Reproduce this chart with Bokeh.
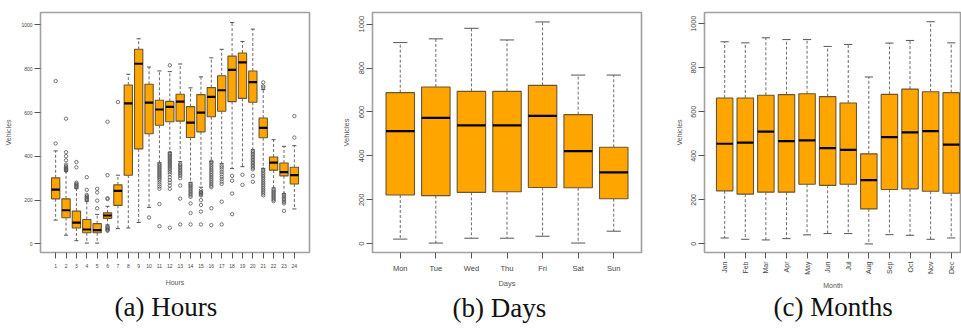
import math

from bokeh.plotting import figure
from bokeh.layouts import row
from bokeh.models import FixedTicker, Range1d, Title
from bokeh.embed import file_html
from bokeh.resources import INLINE

# ---- traffic volume per hour of day ----
hour_labels = [str(h) for h in range(1, 25)]
hour_low = [109, 40, 15, 4, 4, 87, 70, 73, 98, 167, 370, 419, 376, 281, 259, 378, 367, 344, 353, 430, 344, 256, 230, 160]
hour_q1 = [206, 120, 73, 51, 51, 117, 176, 314, 434, 503, 542, 558, 561, 486, 512, 581, 606, 650, 665, 647, 485, 337, 311, 274]
hour_med = [248, 154, 97, 66, 63, 130, 242, 642, 823, 645, 614, 626, 650, 554, 600, 672, 702, 795, 829, 739, 530, 371, 328, 314]
hour_q3 = [302, 206, 150, 112, 93, 142, 270, 726, 889, 729, 656, 651, 684, 627, 682, 714, 768, 858, 872, 790, 575, 397, 370, 350]
hour_high = [425, 332, 254, 195, 135, 172, 314, 775, 937, 808, 790, 787, 822, 713, 763, 850, 889, 1011, 925, 981, 705, 476, 446, 449]
hour_out = [
    [459, 744],
    [335, 338, 341, 345, 349, 355, 362, 382, 401, 419, 572],
    [258, 262, 266, 270, 275, 280, 350, 374],
    [200, 204, 208, 213, 218, 224, 247, 305],
    [163, 198, 235, 252],
    [60, 64, 68, 72, 76, 80, 205, 209, 314, 558],
    [648],
    [],
    [],
    [121],
    [81, 182, 252, 262, 272, 282, 292, 300, 306, 312, 318, 324, 330, 336, 342, 348, 354, 360, 366],
    [74, 252, 267, 280, 292, 305, 318, 328, 336, 344, 350, 356, 362, 368, 374, 380, 386, 392, 398, 404, 410, 415, 816],
    [89, 207, 267, 300, 311, 318, 325, 332, 339, 346, 353, 360, 366],
    [89, 141, 185, 215, 222, 229, 236, 243, 250, 257, 264, 270, 275],
    [89, 148, 178, 200, 222, 226, 230, 234, 237, 245],
    [86, 163, 259, 266, 274, 282, 290, 298, 306, 314, 322, 330, 338, 346, 354, 362, 370, 376],
    [89, 193, 274, 285, 296, 307, 318, 329, 340, 350, 358],
    [136, 230, 289, 311],
    [270, 316],
    [284, 311, 341, 348, 355, 362, 369, 376, 383, 390, 397, 404, 411, 418, 425],
    [222, 230, 238, 246, 254, 262, 270, 278, 286, 294, 302, 310, 318, 326, 334, 340, 714, 720, 738],
    [196, 202, 208, 214, 220, 226, 232, 238, 244, 250],
    [151, 185, 192, 199, 206, 213, 220, 226],
    [486, 584],
]

# ---- traffic volume per day of week ----
day_labels = ["Mon", "Tue", "Wed", "Thu", "Fri", "Sat", "Sun"]
day_low = [21, 3, 25, 25, 34, 3, 57]
day_q1 = [222, 219, 234, 237, 256, 255, 205]
day_med = [513, 573, 539, 539, 582, 422, 325]
day_q3 = [688, 714, 694, 694, 721, 588, 439]
day_high = [916, 933, 981, 928, 1010, 768, 768]
day_out = [[] for _ in day_labels]

# ---- traffic volume per month ----
month_labels = ["Jan", "Feb", "Mar", "Apr", "May", "Jun", "Jul", "Aug", "Sep", "Oct", "Nov", "Dec"]
month_low = [27, 21, 18, 24, 41, 47, 47, 0, 42, 39, 21, 27]
month_q1 = [241, 226, 235, 235, 271, 266, 271, 159, 247, 250, 239, 230]
month_med = [455, 460, 510, 467, 470, 435, 427, 290, 485, 507, 512, 451]
month_q3 = [663, 663, 675, 678, 682, 669, 640, 409, 679, 703, 691, 687]
month_high = [918, 913, 936, 928, 928, 897, 906, 758, 912, 924, 1009, 913]
month_out = [[] for _ in month_labels]

value_ticks = [0, 200, 400, 600, 800, 1000]

SANS = "Liberation Sans"
SERIF = "Liberation Serif"
BOX_FILL = "#FFA500"
BOX_EDGE = "#6a5532"
WHISKER = "#6b6b6b"
BOX_W = 0.8


def boxplot(labels, low, q1, med, q3, high, outliers, *, width, borders, x_range,
            y_range, x_title, caption, caption_left, caption_standoff, tick_size,
            title_size, x_title_standoff, y_vertical, x_vertical):
    left, right, top, bottom = borders
    p = figure(width=width, height=329, output_backend="svg", toolbar_location=None,
               x_range=Range1d(*x_range), y_range=Range1d(*y_range),
               min_border_left=left, min_border_right=right,
               min_border_top=top, min_border_bottom=bottom)
    p.background_fill_color = "white"
    p.border_fill_color = "white"
    p.outline_line_color = "#a0a0a0"
    p.outline_line_width = 1.6
    p.grid.visible = False

    pos = list(range(1, len(labels) + 1))
    half = BOX_W / 2
    cap = BOX_W / 4

    # whiskers (dashed) and staples
    p.segment(x0=pos, y0=q3, x1=pos, y1=high, line_color=WHISKER, line_dash="3 2", line_width=1)
    p.segment(x0=pos, y0=q1, x1=pos, y1=low, line_color=WHISKER, line_dash="3 2", line_width=1)
    p.segment(x0=[x - cap for x in pos], y0=high, x1=[x + cap for x in pos], y1=high,
              line_color="#555555", line_width=1)
    p.segment(x0=[x - cap for x in pos], y0=low, x1=[x + cap for x in pos], y1=low,
              line_color="#555555", line_width=1)

    # boxes and medians
    p.vbar(x=pos, width=BOX_W, bottom=q1, top=q3, fill_color=BOX_FILL,
           line_color=BOX_EDGE, line_width=1.1)
    p.segment(x0=[x - half for x in pos], y0=med, x1=[x + half for x in pos], y1=med,
              line_color="black", line_width=2.2)

    # outliers
    ox, oy = [], []
    for x, vals in zip(pos, outliers):
        ox += [x] * len(vals)
        oy += vals
    if ox:
        p.scatter(ox, oy, marker="circle", size=3.4, fill_color=None,
                  line_color="#555555", line_width=0.8)

    for ax in (p.xaxis[0], p.yaxis[0]):
        ax.axis_line_color = None
        ax.major_tick_line_color = "#555555"
        ax.major_tick_out = 6
        ax.major_tick_in = 0
        ax.minor_tick_line_color = None
        ax.major_label_text_font = SANS
        ax.major_label_text_font_size = f"{tick_size}px"
        ax.major_label_text_color = "#444444"
        ax.axis_label_text_font = SANS
        ax.axis_label_text_font_size = f"{title_size}px"
        ax.axis_label_text_font_style = "normal"
        ax.axis_label_text_color = "#555555"

    p.xaxis.ticker = FixedTicker(ticks=pos)
    p.xaxis.major_label_overrides = {x: lab for x, lab in zip(pos, labels)}
    p.xaxis.axis_label = x_title
    p.yaxis.ticker = FixedTicker(ticks=value_ticks)
    p.yaxis.axis_label = "Vehicles"
    p.xaxis.major_label_standoff = 5
    p.yaxis.major_label_standoff = 2
    p.xaxis.axis_label_standoff = x_title_standoff
    p.yaxis.axis_label_standoff = 6
    if y_vertical:
        p.yaxis.major_label_orientation = "vertical"
    if x_vertical:
        # text reads bottom-to-top under the axis
        p.xaxis.major_label_orientation = math.pi / 2
        p.xaxis.major_label_standoff = 3

    # sub-figure caption underneath the panel
    p.add_layout(Title(text=caption, align="left", offset=caption_left,
                       standoff=caption_standoff, text_font=SERIF,
                       text_font_size="27px", text_font_style="normal",
                       text_color="#111111"), "below")
    return p


pa = boxplot(hour_labels, hour_low, hour_q1, hour_med, hour_q3, hour_high, hour_out,
             width=330, borders=(40, 21, 8, 77), x_range=(-0.46, 25.46),
             y_range=(-39, 1057), x_title="Hours", caption="(a) Hours", caption_left=74,
             caption_standoff=2, tick_size=5, title_size=7, x_title_standoff=8,
             y_vertical=False, x_vertical=False)
pb = boxplot(day_labels, day_low, day_q1, day_med, day_q3, day_high, day_out,
             width=320, borders=(42, 9, 10, 76), x_range=(0.22, 7.78),
             y_range=(-40, 1053), x_title="Days", caption="(b) Days", caption_left=80,
             caption_standoff=1, tick_size=7.5, title_size=7.5, x_title_standoff=3,
             y_vertical=True, x_vertical=False)
pc = boxplot(month_labels, month_low, month_q1, month_med, month_q3, month_high, month_out,
             width=311, borders=(54, 0, 12, 75), x_range=(0.02, 12.5),
             y_range=(-39, 1051), x_title="Month", caption="(c) Months", caption_left=69,
             caption_standoff=-3, tick_size=7, title_size=7, x_title_standoff=4,
             y_vertical=True, x_vertical=True)

layout = row(pa, pb, pc, spacing=0)
with open("out.html", "w") as f:
    f.write(file_html(layout, INLINE))
